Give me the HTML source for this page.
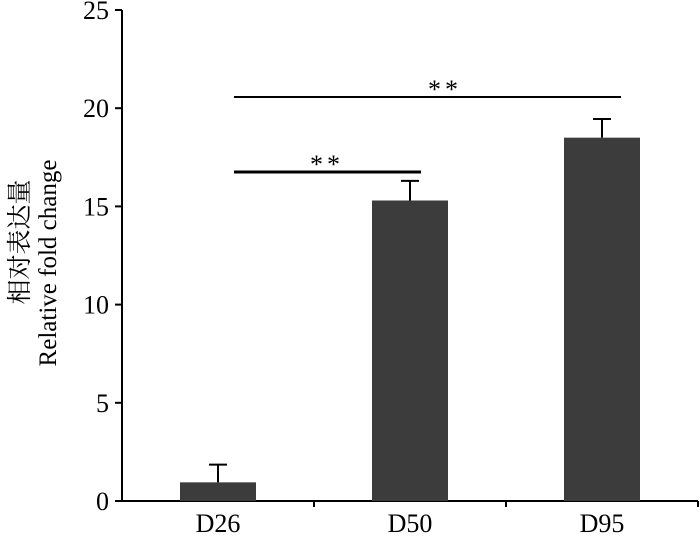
<!DOCTYPE html>
<html><head><meta charset="utf-8"><style>
body{margin:0;background:#fff}
svg text{font-family:"Liberation Serif","Noto Serif CJK SC",serif;fill:#000}
</style></head><body>
<svg width="700" height="534">
<g id="g"></g>
</svg>
<script>
const categories=["D26","D50","D95"];
const values=[0.95,15.3,18.5];
const errors=[0.9,1.0,0.95];
const yTicks=[0,5,10,15,20,25];
const x0=122,x1=698,y0=501,yTop=10,yMax=25;
const Y=v=>y0-(y0-yTop)*v/yMax;
const bw=(x1-x0)/categories.length;
const X=i=>x0+bw*(i+0.5);
const g=document.getElementById('g');
const NS='http://www.w3.org/2000/svg';
function mk(t,a){const e=document.createElementNS(NS,t);for(const k in a)e.setAttribute(k,a[k]);g.appendChild(e);return e;}
let e;
e=mk('line',{x1:x0,y1:y0,x2:x1,y2:y0,stroke:'#000','stroke-width':2});


e=mk('line',{x1:x0,y1:yTop,x2:x0,y2:y0,stroke:'#000','stroke-width':2});


yTicks.forEach(t=>{
 e=mk('line',{x1:x0-7,y1:Y(t),x2:x0,y2:Y(t),stroke:'#000','stroke-width':2});
 
 
 e=mk('text',{x:x0-13,y:Y(t)+9,'text-anchor':'end','font-size':26});e.textContent=t;
 
 
});
for(let i=1;i<=categories.length;i++){
 e=mk('line',{x1:x0+bw*i,y1:y0,x2:x0+bw*i,y2:y0+6,stroke:'#000','stroke-width':2});
 
 
}
categories.forEach((c,i)=>{
 const cx=X(i);
 e=mk('line',{x1:cx,y1:Y(values[i]),x2:cx,y2:Y(values[i]+errors[i]),stroke:'#000','stroke-width':2});
 
 
 e=mk('line',{x1:cx-9,y1:Y(values[i]+errors[i]),x2:cx+9,y2:Y(values[i]+errors[i]),stroke:'#000','stroke-width':2});
 
 
 e=mk('rect',{x:cx-38,y:Y(values[i]),width:76,height:y0-Y(values[i]),fill:'#3c3c3c'});
 
 
 e=mk('text',{x:cx,y:532,'text-anchor':'middle','font-size':26});e.textContent=c;
 
 
});
e=mk('line',{x1:234,y1:97,x2:621,y2:97,stroke:'#000','stroke-width':2});


e=mk('text',{x:445,y:98,'text-anchor':'middle','font-size':26,'letter-spacing':4});e.textContent='**';


e=mk('line',{x1:234,y1:172,x2:421,y2:172,stroke:'#000','stroke-width':3});


e=mk('text',{x:327,y:173,'text-anchor':'middle','font-size':26,'letter-spacing':4});e.textContent='**';


e=mk('text',{x:0,y:0,'text-anchor':'middle','font-size':25,transform:'translate(28,242) rotate(-90)'});e.textContent='相对表达量';


e=mk('text',{x:0,y:0,'text-anchor':'middle','font-size':25,transform:'translate(56,263) rotate(-90)'});e.textContent='Relative fold change';


</script>
</body></html>
